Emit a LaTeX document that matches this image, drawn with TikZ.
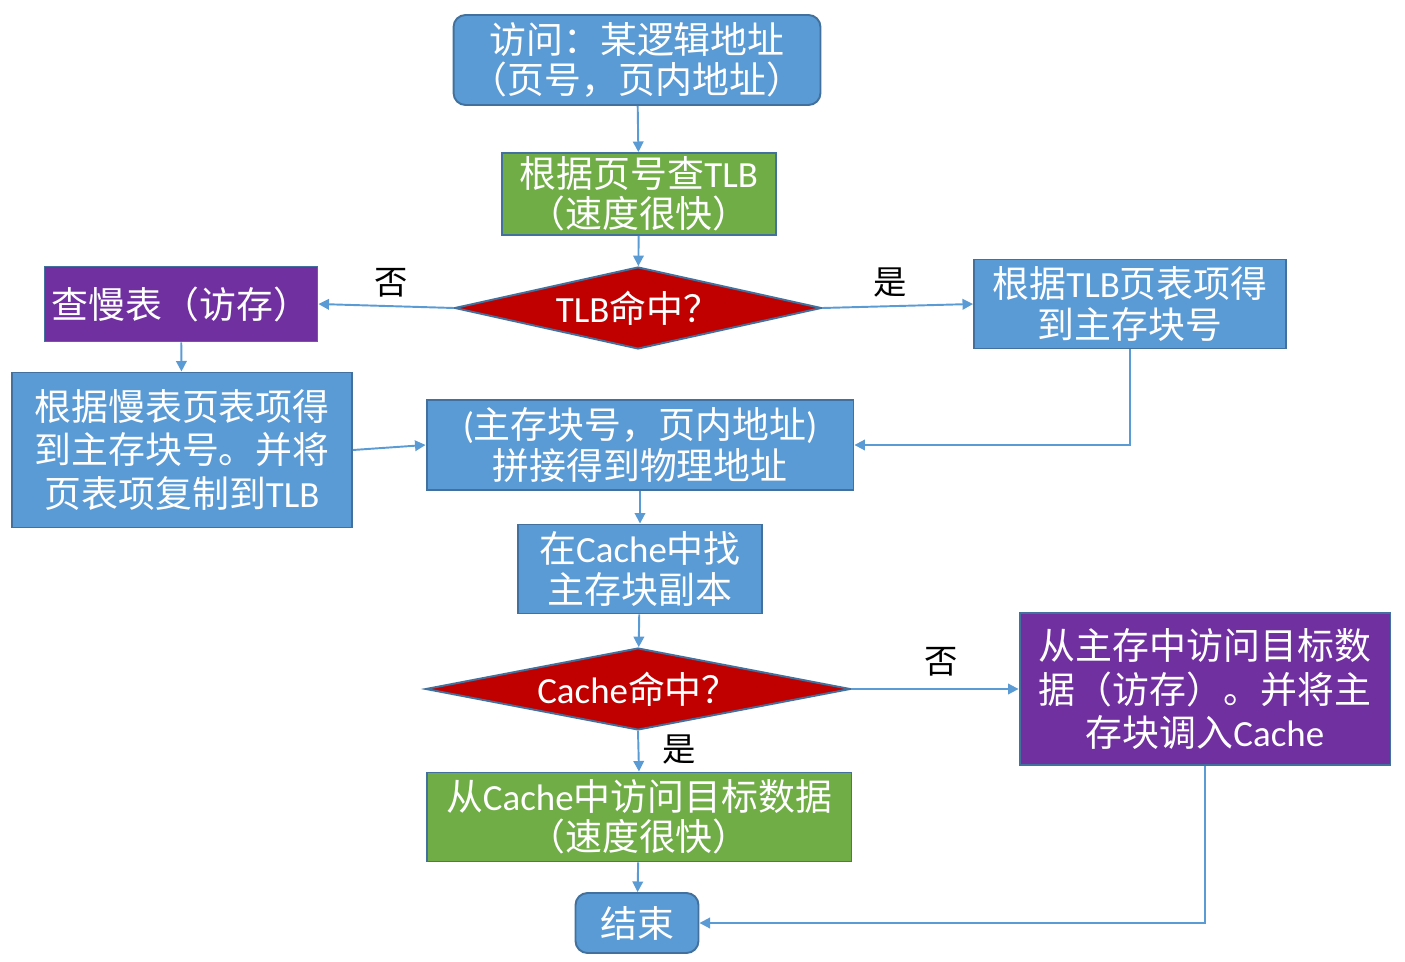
\documentclass[tikz,border=0pt]{standalone}
\usepackage{fontspec}
\setmainfont{Noto Sans CJK SC}
\newfontfamily\lat{Carlito}
\usetikzlibrary{shapes.geometric,arrows.meta}
\definecolor{boxblue}{HTML}{5B9BD5}
\definecolor{boxline}{HTML}{41719C}
\definecolor{boxgreen}{HTML}{70AD47}
\definecolor{boxpurple}{HTML}{7030A0}
\definecolor{boxred}{HTML}{C00000}
\begin{document}
\begin{tikzpicture}[x=0.02cm,y=-0.02cm,>={Triangle[length=6pt,width=6pt]},
    box/.style={draw=boxline,line width=1.1pt,text=white,align=center,inner sep=0pt,
        font=\fontsize{21pt}{23pt}\selectfont},
    bluebox/.style={box,fill=boxblue},
    greenbox/.style={box,fill=boxgreen},
    purplebox/.style={box,fill=boxpurple},
    roundbox/.style={box,fill=boxblue,rounded corners=0.24cm},
    decide/.style={box,diamond,aspect=4.5,fill=boxred},
    line/.style={draw=boxblue,line width=1.1pt,->},
    word/.style={font=\fontsize{19pt}{21pt}\selectfont}]
        \useasboundingbox (0,0) rectangle (1405,962);
        % TLB part
        \node[roundbox,minimum width=7.34cm,minimum height=1.8cm] (start) at (637,60)
            {访问：某逻辑地址\\（页号，页内地址）};
        \node[greenbox,minimum width=5.48cm,minimum height=1.64cm] (tlb) at (639,194)
            {根据页号查{\lat TLB}\\（速度很快）};
        \node[decide,minimum width=7.34cm,minimum height=1.64cm] (tlbhit) at (638,308)
            {{\lat TLB}命中？};
        \node[purplebox,minimum width=5.46cm,minimum height=1.5cm] (slow) at (181,304)
            {查慢表（访存）};
        \node[bluebox,minimum width=6.24cm,minimum height=1.78cm] (tlbok) at (1130,304)
            {根据{\lat TLB}页表项得\\到主存块号};
        \node[bluebox,minimum width=6.8cm,minimum height=3.1cm,
            font=\fontsize{21pt}{25pt}\selectfont] (slowok) at (182,450)
            {根据慢表页表项得\\到主存块号。并将\\页表项复制到{\lat TLB}};
        \node[bluebox,minimum width=8.54cm,minimum height=1.8cm] (concat) at (640,445)
            {{\lat(}主存块号，页内地址{\lat)}\\拼接得到物理地址};
        % Cache part
        \node[bluebox,minimum width=4.88cm,minimum height=1.78cm] (find) at (640,569)
            {在{\lat Cache}中找\\主存块副本};
        \node[decide,minimum width=8.5cm,minimum height=1.64cm] (cachehit) at (638,689)
            {{\lat Cache}命中？};
        \node[greenbox,minimum width=8.5cm,minimum height=1.78cm] (hit) at (639,817)
            {从{\lat Cache}中访问目标数据\\（速度很快）};
        \node[purplebox,minimum width=7.42cm,minimum height=3.04cm,
            font=\fontsize{21pt}{25pt}\selectfont] (miss) at (1205,689)
            {从主存中访问目标数\\据（访存）。并将主\\存块调入{\lat Cache}};
        \node[roundbox,minimum width=2.46cm,minimum height=1.2cm] (end) at (637,923)
            {结束};
        % arrows
        \draw[line] (start) -- (tlb);
        \draw[line] (tlb) -- (tlbhit);
        \draw[line] (tlbhit.west) -- (slow.east);
        \draw[line] (tlbhit.east) -- (tlbok.west);
        \draw[line] (slow) -- (slowok);
        \draw[line] (slowok.east) -- (concat.west);
        \draw[line] (tlbok.south) |- (concat.east);
        \draw[line] (concat) -- (find);
        \draw[line] (find) -- (cachehit);
        \draw[line] (cachehit.east) -- (miss.west);
        \draw[line] (cachehit.south) -- (hit.north);
        \draw[line] (hit) -- (end);
        \draw[line] (miss.south) |- (end.east);
        % yes / no
        \node[word] (tlbno) at (391,283) {否};
        \node[word] (tlbyes) at (890,283) {是};
        \node[word] (cacheno) at (941,662) {否};
        \node[word] (cacheyes) at (679,750) {是};
    \end{tikzpicture}
\end{document}
